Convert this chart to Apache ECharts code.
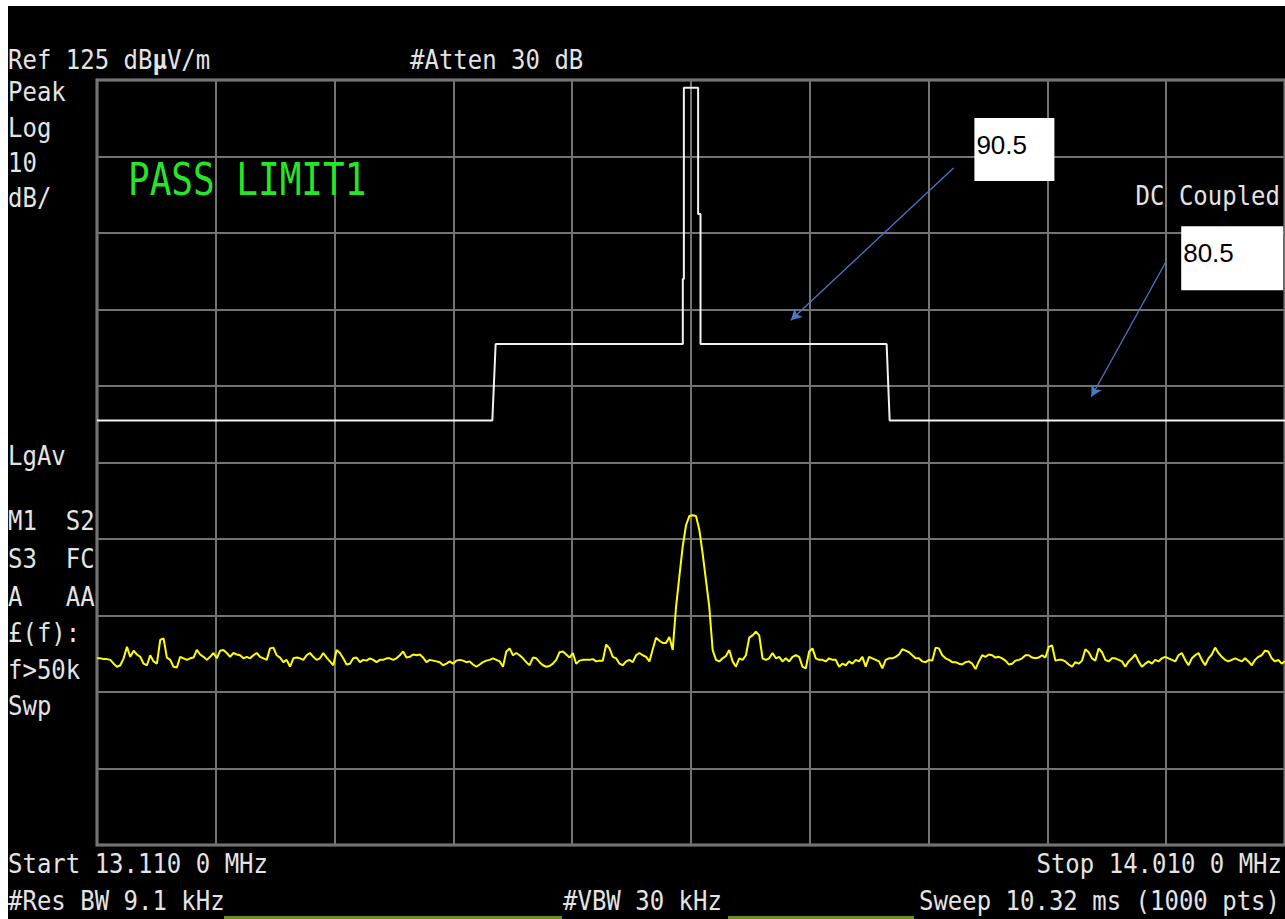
<!DOCTYPE html>
<html>
<head>
<meta charset="utf-8">
<script src="https://cdn.jsdelivr.net/npm/echarts@6/dist/echarts.min.js"></script>
<style>
html,body{margin:0;padding:0;background:#ffffff;}
#chart{width:1285px;height:919px;}
</style>
</head>
<body>
<div id="chart"></div>
<script>
// ---------------- data ----------------
const START_MHZ = 13.110;
const STOP_MHZ = 14.010;
const REF_DB = 125;
const BOTTOM_DB = 25;
const DB_PER_DIV = 10;
const FREQ_DIV_KHZ = 90;

// limit line (FCC 15.225 style mask), MHz / dBuV/m
const LIMIT_FREQ_MHZ = [13.110, 13.4095, 13.4120, 13.5538, 13.5538, 13.5546, 13.5546, 13.5654, 13.5654, 13.5672, 13.5672, 13.7082, 13.7105, 14.010];
const LIMIT_DB       = [80.5,   80.5,    90.5,    90.5,    99.0,    99.0,    124.0,   124.0,   107.5,   107.5,   90.5,    90.5,    80.5,    80.5];

const TRACE_LOW = [49.4, 49.4, 49.3, 49.3, 49.2, 48.7, 48.3, 48.5, 49.4, 50.9, 49.6,
  50.4, 49.9, 49.6, 48.7, 48.5, 49.8, 49.0, 48.7, 51.8, 52.0,
  49.5, 49.2, 48.3, 48.2, 49.6, 49.4, 49.2, 49.4, 49.5, 50.5,
  49.9, 49.6, 49.2, 49.6, 50.1, 49.4, 50.4, 50.5, 50.1, 49.6,
  50.1, 49.9, 49.8, 49.4, 49.6, 49.4, 49.8, 50.1, 49.6, 49.4,
  49.2, 50.7, 50.8, 49.8, 49.5, 48.9, 49.2, 48.3, 49.4, 49.5,
  49.4, 49.2, 49.8, 50.1, 49.6, 49.2, 49.4, 50.1, 49.5, 49.0,
  48.5, 50.5, 50.1, 49.4, 48.6, 48.7, 49.4, 49.5, 48.9, 49.2,
  49.1, 49.4, 49.2, 48.9, 49.2, 49.2, 49.4, 49.4, 49.2, 49.4,
  49.8, 50.3, 49.5, 49.6, 49.9, 49.8, 49.9, 49.5, 48.9, 49.2,
  49.1, 49.0, 48.9, 48.5, 48.7, 49.0, 48.7, 49.1, 49.2, 49.1,
  48.9, 49.0, 48.6, 48.3, 48.6, 48.9, 49.1, 49.2, 49.4];
const TRACE_MIDLOW = [49.2, 49.0, 48.3, 50.3, 50.7, 49.8, 50.1, 49.8, 49.4, 48.9,
  48.5, 49.5, 49.4, 48.9, 48.5, 48.3, 48.4, 48.7, 49.2, 50.2,
  50.3, 49.9, 49.5, 50.1, 48.7, 49.1, 49.2, 49.2, 49.2, 49.3,
  49.0, 49.1, 49.1, 51.2, 50.7, 49.6, 49.4, 48.7, 48.5, 49.0,
  49.2, 48.9, 49.8, 50.1, 49.8, 49.6, 49.0, 50.6, 52.1, 51.7];
const TRACE_CARRIER = [51.4, 51.4, 52.2, 50.5, 56.1, 60.1, 64.0, 66.8, 68.0, 68.1, 68.0,
  66.2, 63.1, 59.6, 56.1, 50.5, 49.2, 49.0, 49.4, 49.7, 50.5];
const TRACE_MIDHIGH = [49.0, 48.3, 49.4, 49.2, 49.8, 52.1, 52.4, 52.9, 52.4, 49.4,
  49.2, 49.4, 50.1, 49.4, 49.6, 49.0, 49.4, 49.0, 49.6, 49.8,
  49.6, 48.3, 48.1, 50.3, 50.7, 49.4, 49.2, 49.2, 49.0, 49.4,
  49.2, 49.2, 48.3, 48.7, 48.5, 49.0, 48.7, 49.2, 49.0, 49.6,
  48.3, 49.6, 49.4, 49.2, 49.0, 48.1, 49.2, 49.4];
const TRACE_HIGH = [49.4, 49.6, 49.9, 50.6, 50.4, 50.2, 49.8, 49.4, 49.4, 49.0,
  48.9, 49.2, 49.1, 50.8, 50.7, 49.8, 49.4, 49.2, 48.9, 48.9,
  48.7, 48.6, 48.9, 49.0, 48.7, 48.0, 49.0, 49.8, 49.6, 49.9,
  49.8, 49.5, 49.6, 49.4, 49.1, 48.6, 48.7, 49.1, 49.2, 49.4,
  49.8, 49.8, 49.5, 49.4, 49.5, 49.8, 49.5, 50.9, 51.1, 49.1,
  49.2, 49.2, 49.0, 48.6, 48.3, 48.9, 48.7, 49.1, 50.6, 50.2,
  49.4, 49.1, 50.7, 50.2, 49.2, 49.0, 49.4, 49.4, 49.2, 49.0,
  48.3, 49.0, 49.4, 49.9, 49.0, 48.3, 48.7, 49.0, 48.7, 49.2,
  49.0, 49.4, 49.6, 49.4, 49.2, 49.0, 49.8, 50.1, 49.2, 48.5,
  49.4, 49.8, 50.1, 49.2, 48.5, 49.4, 49.9, 50.8, 50.1, 49.6,
  49.2, 49.0, 49.2, 49.4, 49.2, 49.0, 49.4, 49.0, 48.5, 49.2,
  49.6, 49.8, 50.4, 50.3, 49.4, 49.0, 49.2, 48.7, 49.0];

// callouts: label, box centre (MHz, dB), arrow from / to (MHz, dB)
const CALLOUT_LABELS = ['90.5', '80.5'];
const CALLOUT_BOX_MHZ = [13.805, 13.9700];
const CALLOUT_BOX_DB = [115.9, 101.7];
const CALLOUT_FROM_MHZ = [13.7589, 13.9200];
const CALLOUT_FROM_DB = [113.5, 101.3];
const CALLOUT_TO_MHZ = [13.6356, 13.8633];
const CALLOUT_TO_DB = [93.6, 83.6];

// screen annotation texts
const TXT_REF = 'Ref 125 dB{b|µ}V/m';
const TXT_ATTEN = '#Atten 30 dB';
const TXT_LEFT_TOP = ['Peak', 'Log', '10', 'dB/'];
const TXT_LEFT_BOTTOM = ['LgAv', 'M1  S2', 'S3  FC', 'A   AA', '£(f):', 'f>50k', 'Swp'];
const TXT_PASS = 'PASS LIMIT1';
const TXT_COUPLING = 'DC Coupled';
const TXT_START = 'Start 13.110 0 MHz';
const TXT_STOP = 'Stop 14.010 0 MHz';
const TXT_RBW = '#Res BW 9.1 kHz';
const TXT_VBW = '#VBW 30 kHz';
const TXT_SWEEP = 'Sweep 10.32 ms (1000 pts)';

// ---------------- build ----------------
const toX = f => (f - START_MHZ) * 1000;       // kHz from start
const toY = d => d - BOTTOM_DB;                // dB above bottom graticule
const SPAN_KHZ = (STOP_MHZ - START_MHZ) * 1000;

const limitData = LIMIT_FREQ_MHZ.map((f, i) => [toX(f), toY(LIMIT_DB[i])]);
const trace = [].concat(TRACE_LOW, TRACE_MIDLOW, TRACE_CARRIER, TRACE_MIDHIGH, TRACE_HIGH);
const traceData = trace.map((d, i) => [i * SPAN_KHZ / (trace.length - 1), toY(d)]);

const FONT = '"DejaVu Sans Mono", "Liberation Mono", monospace';
const TXT_COLOR = '#e4e4e4';

function txt(text, x, y, opts) {
  opts = opts || {};
  return {
    type: 'text', x: x, y: y, z: 50, silent: true,
    scaleY: opts.scaleY || 1.12,
    style: {
      text: text, fill: opts.color || TXT_COLOR,
      font: (opts.size || 24) + 'px ' + FONT,
      align: opts.align || 'left', verticalAlign: 'middle',
      rich: opts.rich
    }
  };
}

const graphics = [
  {type: 'rect', shape: {x: 0, y: 0, width: 1285, height: 6}, style: {fill: '#ffffff'}, z: 60, silent: true},
  {type: 'rect', shape: {x: 0, y: 0, width: 8, height: 919}, style: {fill: '#ffffff'}, z: 60, silent: true},
  {type: 'rect', shape: {x: 224, y: 916, width: 338, height: 3}, style: {fill: '#6b8e23'}, z: 60, silent: true},
  {type: 'rect', shape: {x: 728, y: 916, width: 186, height: 3}, style: {fill: '#6b8e23'}, z: 60, silent: true},
  txt(TXT_REF, 8, 60, {rich: {b: {font: 'bold 24px ' + FONT, fill: TXT_COLOR}}}),
  txt(TXT_ATTEN, 410, 60),
  txt(TXT_COUPLING, 1280, 196, {align: 'right'}),
  txt(TXT_START, 8, 864),
  txt(TXT_STOP, 1282, 864, {align: 'right'}),
  txt(TXT_RBW, 8, 901),
  txt(TXT_VBW, 563, 901),
  txt(TXT_SWEEP, 1280, 901, {align: 'right'}),
  txt(TXT_PASS, 128, 180, {size: 36, color: '#27e527', scaleY: 1.25})
];
const topRows = [92, 128, 163, 198];
TXT_LEFT_TOP.forEach((t, i) => graphics.push(txt(t, 8, topRows[i])));
const botRows = [456, 521, 559, 597, 633, 670, 706];
TXT_LEFT_BOTTOM.forEach((t, i) => graphics.push(txt(t, 8, botRows[i])));

const arrowLines = CALLOUT_LABELS.map((l, i) => [
  {coord: [toX(CALLOUT_FROM_MHZ[i]), toY(CALLOUT_FROM_DB[i])]},
  {coord: [toX(CALLOUT_TO_MHZ[i]), toY(CALLOUT_TO_DB[i])]}
]);
const boxSizes = [[80, 63], [102, 64]];
const boxes = CALLOUT_LABELS.map((l, i) => ({
  coord: [toX(CALLOUT_BOX_MHZ[i]), toY(CALLOUT_BOX_DB[i])],
  symbol: 'rect', symbolSize: boxSizes[i],
  itemStyle: {color: '#ffffff'},
  label: {
    show: true, formatter: l, position: [2, 14], align: 'left', verticalAlign: 'top',
    color: '#000000', fontSize: 26, fontFamily: '"Liberation Sans", Arial, sans-serif'
  }
}));

const axisCommon = {
  type: 'value',
  axisLabel: {show: false}, axisTick: {show: false}, axisLine: {show: false},
  splitLine: {show: true, lineStyle: {color: '#737373', width: 2}}
};

const chart = echarts.init(document.getElementById('chart'), null, {renderer: 'svg'});
chart.setOption({
  animation: false,
  backgroundColor: '#000000',
  grid: {left: 97, top: 80, width: 1191, height: 765, show: true, borderColor: '#858585', borderWidth: 3, backgroundColor: 'transparent'},
  xAxis: Object.assign({}, axisCommon, {min: 0, max: SPAN_KHZ, interval: FREQ_DIV_KHZ}),
  yAxis: Object.assign({}, axisCommon, {min: 0, max: REF_DB - BOTTOM_DB, interval: DB_PER_DIV}),
  series: [
    {
      name: 'Limit', type: 'line', data: limitData, showSymbol: false, silent: true,
      lineStyle: {color: '#f2f2f2', width: 2}, z: 3,
      markLine: {
        silent: true, symbol: ['none', 'arrow'], symbolSize: [9, 11],
        label: {show: false},
        lineStyle: {color: '#4a78c8', width: 1.3, type: 'solid'},
        data: arrowLines
      },
      markPoint: {silent: true, data: boxes}
    },
    {
      name: 'Trace', type: 'line', data: traceData, showSymbol: false, silent: true,
      lineStyle: {color: '#ffff00', width: 2}, z: 2
    }
  ],
  graphic: graphics
});
</script>
</body>
</html>
